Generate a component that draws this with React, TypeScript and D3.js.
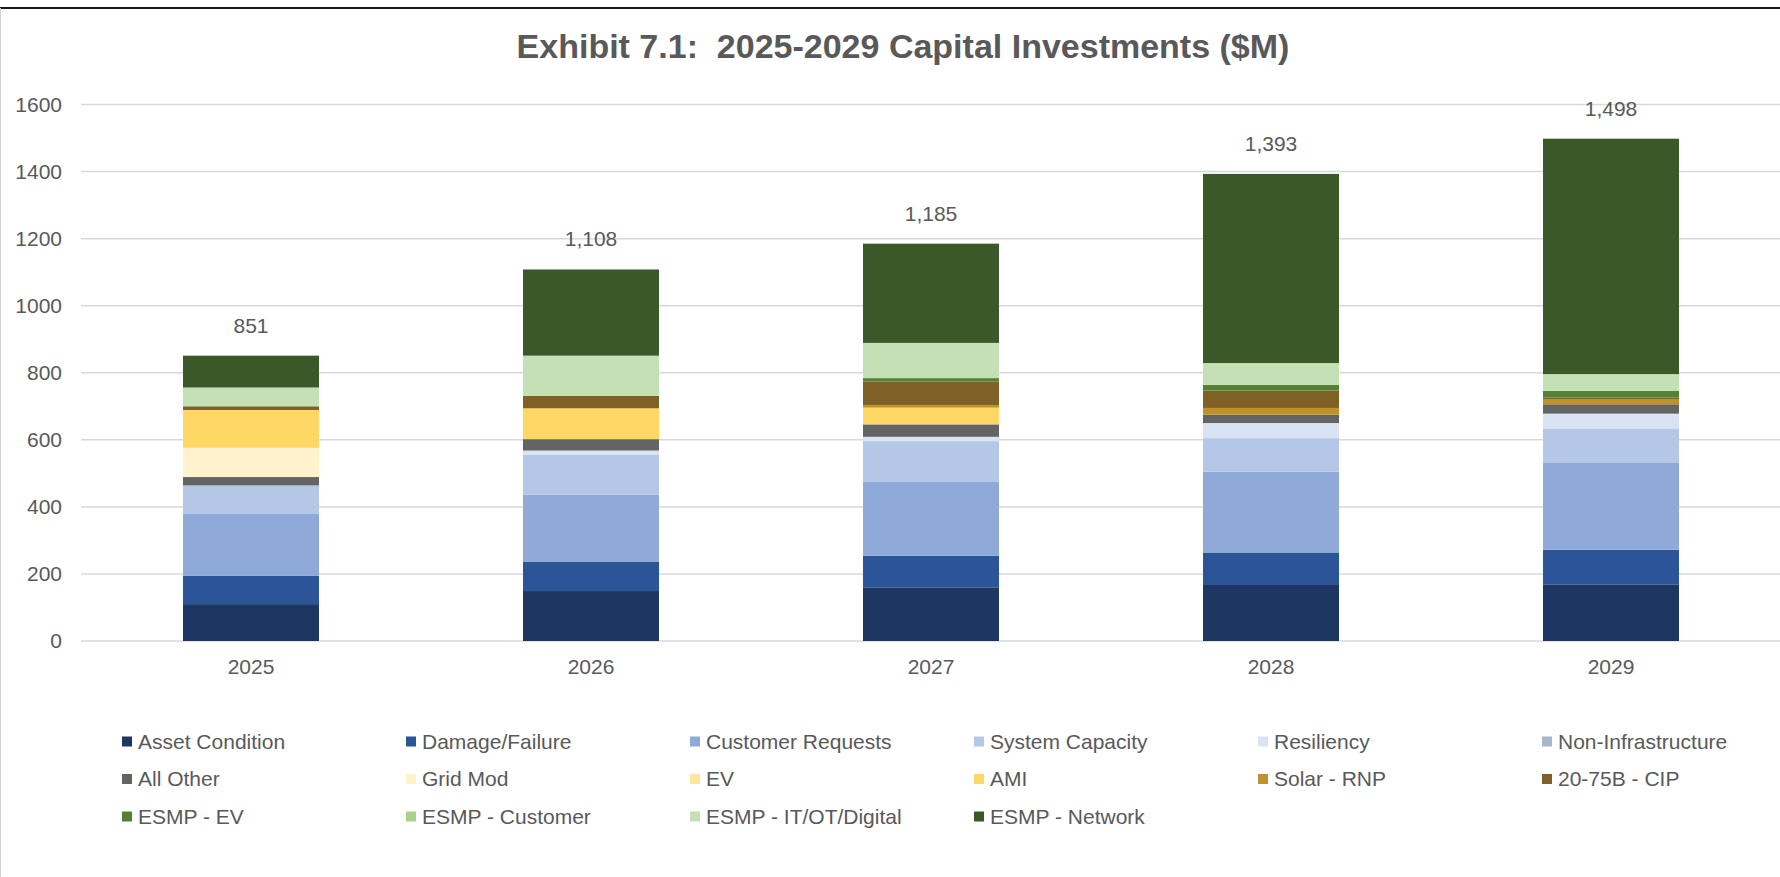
import React from "react";
import * as d3 from "d3";

// years on the x axis
const years = ["2025", "2026", "2027", "2028", "2029"];

// stacked series, bottom to top, one value per year ($M)
const assetCondition = [110, 149, 160, 167, 169];
const damageFailure = [84, 88, 94, 97, 103];
const customerRequests = [185, 199, 222, 241, 259];
const systemCapacity = [85, 119, 120, 100, 103];
const resiliency = [0, 13, 13, 45, 44];
const nonInfrastructure = [0, 0, 0, 0, 0];
const allOther = [25, 34, 37, 25, 28];
const gridMod = [87, 0, 0, 0, 0];
const ev = [0, 0, 0, 0, 0];
const ami = [113, 92, 50, 0, 0];
const solarRnp = [0, 0, 8, 20, 14];
const cip = [11, 37, 70, 52, 6];
const esmpEv = [0, 0, 10, 17, 20];
const esmpCustomer = [0, 0, 0, 0, 0];
const esmpItOt = [56, 120, 105, 65, 50];
const esmpNetwork = [95, 257, 296, 564, 702];

// totals printed above each bar
const totals = [851, 1108, 1185, 1393, 1498];

const yTicks = [0, 200, 400, 600, 800, 1000, 1200, 1400, 1600];

const series = [
  { name: "Asset Condition", values: assetCondition, color: "#1e3762" },
  { name: "Damage/Failure", values: damageFailure, color: "#2b5597" },
  { name: "Customer Requests", values: customerRequests, color: "#8faad8" },
  { name: "System Capacity", values: systemCapacity, color: "#b4c7e7" },
  { name: "Resiliency", values: resiliency, color: "#dae3f3" },
  { name: "Non-Infrastructure", values: nonInfrastructure, color: "#a9b7cc" },
  { name: "All Other", values: allOther, color: "#646464" },
  { name: "Grid Mod", values: gridMod, color: "#fff2cc" },
  { name: "EV", values: ev, color: "#ffe699" },
  { name: "AMI", values: ami, color: "#ffd764" },
  { name: "Solar - RNP", values: solarRnp, color: "#c0922a" },
  { name: "20-75B - CIP", values: cip, color: "#7f6128" },
  { name: "ESMP - EV", values: esmpEv, color: "#548235" },
  { name: "ESMP - Customer", values: esmpCustomer, color: "#a9d18e" },
  { name: "ESMP - IT/OT/Digital", values: esmpItOt, color: "#c5e0b4" },
  { name: "ESMP - Network", values: esmpNetwork, color: "#3b5828" },
];

const W = 1780;
const H = 877;
const FONT = "'Liberation Sans', Arial, sans-serif";

export default function App() {
  const rows = years.map((y, i) => {
    const r: Record<string, any> = { year: y };
    series.forEach((s) => (r[s.name] = s.values[i]));
    return r;
  });
  const stacked = d3.stack<any>().keys(series.map((s) => s.name))(rows);

  const x = d3
    .scaleBand()
    .domain(years)
    .range([81, 1781])
    .paddingInner(0.6)
    .paddingOuter(0.3);
  const y = d3.scaleLinear().domain([0, 1600]).range([641, 104.5]);

  const fmt = d3.format(",");

  return (
    <svg
      width={W}
      height={H}
      style={{ position: "absolute", left: 0, top: 0, background: "#fff" }}
      fontFamily={FONT}
    >
      <rect x={0} y={0} width={W} height={H} fill="#fff" />
      {/* frame */}
      <line x1={0} x2={W} y1={8} y2={8} stroke="#1a1a1a" strokeWidth={2} />
      <line x1={0.5} x2={0.5} y1={8} y2={H} stroke="#d0d0d0" strokeWidth={1} />

      <text
        x={903}
        y={58}
        textAnchor="middle"
        fontSize={34}
        fontWeight="bold"
        fill="#595959"
        style={{ whiteSpace: "pre" }}
      >
        {"Exhibit 7.1:  2025-2029 Capital Investments ($M)"}
      </text>

      {/* grid + y ticks */}
      {yTicks.map((t) => (
        <g key={t}>
          <line
            x1={81}
            x2={W}
            y1={y(t)}
            y2={y(t)}
            stroke="#d9d9d9"
            strokeWidth={1.5}
          />
          <text
            x={62}
            y={y(t) + 7}
            textAnchor="end"
            fontSize={21}
            fill="#595959"
          >
            {t}
          </text>
        </g>
      ))}

      {/* bars */}
      {stacked.map((layer, li) => (
        <g key={layer.key} fill={series[li].color}>
          {layer.map((d: any, i: number) =>
            d[1] - d[0] > 0 ? (
              <rect
                key={i}
                x={x(years[i])}
                y={y(d[1])}
                width={x.bandwidth()}
                height={y(d[0]) - y(d[1])}
              />
            ) : null
          )}
        </g>
      ))}

      {/* totals */}
      {years.map((yr, i) => (
        <text
          key={yr}
          x={(x(yr) ?? 0) + x.bandwidth() / 2}
          y={y(totals[i]) - 23}
          textAnchor="middle"
          fontSize={21}
          fill="#595959"
        >
          {fmt(totals[i])}
        </text>
      ))}

      {/* x labels */}
      {years.map((yr) => (
        <text
          key={yr}
          x={(x(yr) ?? 0) + x.bandwidth() / 2}
          y={674}
          textAnchor="middle"
          fontSize={21}
          fill="#595959"
        >
          {yr}
        </text>
      ))}

      {/* legend */}
      {series.map((s, i) => {
        const col = i % 6;
        const row = Math.floor(i / 6);
        const lx = 122 + col * 284;
        const ly = 741.5 + row * 37.5;
        return (
          <g key={s.name}>
            <rect x={lx} y={ly - 5} width={10} height={10} fill={s.color} />
            <text x={lx + 16} y={ly + 7} fontSize={21} fill="#595959">
              {s.name}
            </text>
          </g>
        );
      })}
    </svg>
  );
}
